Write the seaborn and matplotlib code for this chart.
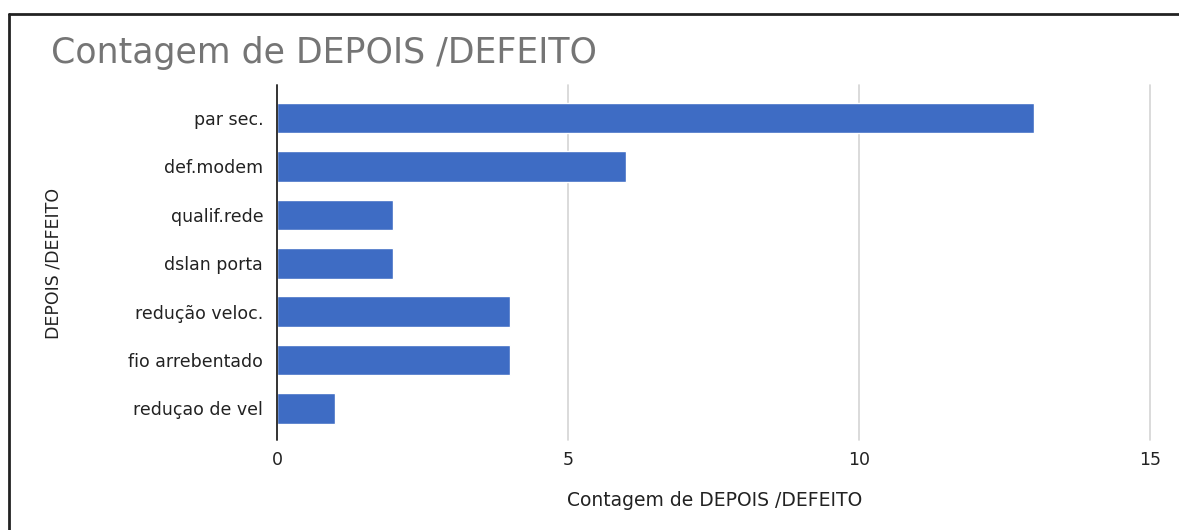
import matplotlib
matplotlib.use("Agg")
import matplotlib.pyplot as plt
from matplotlib.lines import Line2D
import seaborn as sns
import pandas as pd

categories = ["par sec.", "def.modem", "qualif.rede", "dslan porta",
              "redução veloc.", "fio arrebentado", "reduçao de vel"]
counts = [13, 6, 2, 2, 4, 4, 1]
x_ticks = [0, 5, 10, 15]

df = pd.DataFrame({"DEPOIS /DEFEITO": categories,
                   "Contagem de DEPOIS /DEFEITO": counts})

sns.set_theme(style="white")
plt.rcParams["font.family"] = ["DejaVu Sans"]

fig = plt.figure(figsize=(11.79, 5.30), dpi=100)
ax = fig.add_axes([0.235, 0.1836, 0.743, 0.6394])

sns.barplot(data=df, y="DEPOIS /DEFEITO", x="Contagem de DEPOIS /DEFEITO",
            order=categories, color="#3e6cc4", saturation=1, width=0.63,
            orient="h", ax=ax, zorder=3)

ax.set_xlim(0, 15.05)
ax.set_xticks(x_ticks)
ax.set_xticklabels([str(t) for t in x_ticks])
ax.set_ylim(6.5, -0.5)

for t in x_ticks[1:]:
    ax.axvline(t, color="#d4d4d4", lw=1.2, zorder=1, clip_on=False,
               ymin=-0.022, ymax=1.025)
ax.axvline(0, color="#333333", lw=1.4, zorder=4, clip_on=False,
           ymin=-0.022, ymax=1.025)

for s in ax.spines.values():
    s.set_visible(False)

ax.tick_params(axis="both", length=0, labelsize=12.5, colors="#222222")
ax.tick_params(axis="y", pad=10)
ax.tick_params(axis="x", pad=13)

ax.set_xlabel("Contagem de DEPOIS /DEFEITO", fontsize=13.5, color="#222222",
              labelpad=16)
ax.set_ylabel("DEPOIS /DEFEITO", fontsize=12.5, color="#222222")
ax.yaxis.set_label_coords(-0.245, 0.5)

fig.text(0.043, 0.9, "Contagem de DEPOIS /DEFEITO", fontsize=25,
         color="#757575", ha="left", va="center")

# frame lines along the top and left edges
fig.add_artist(Line2D([0.0076, 1.0], [0.973, 0.973], color="#222222", lw=2))
fig.add_artist(Line2D([0.0076, 0.0076], [0.0, 0.973], color="#222222", lw=2))

fig.savefig("out.png", dpi=100, facecolor="white")
